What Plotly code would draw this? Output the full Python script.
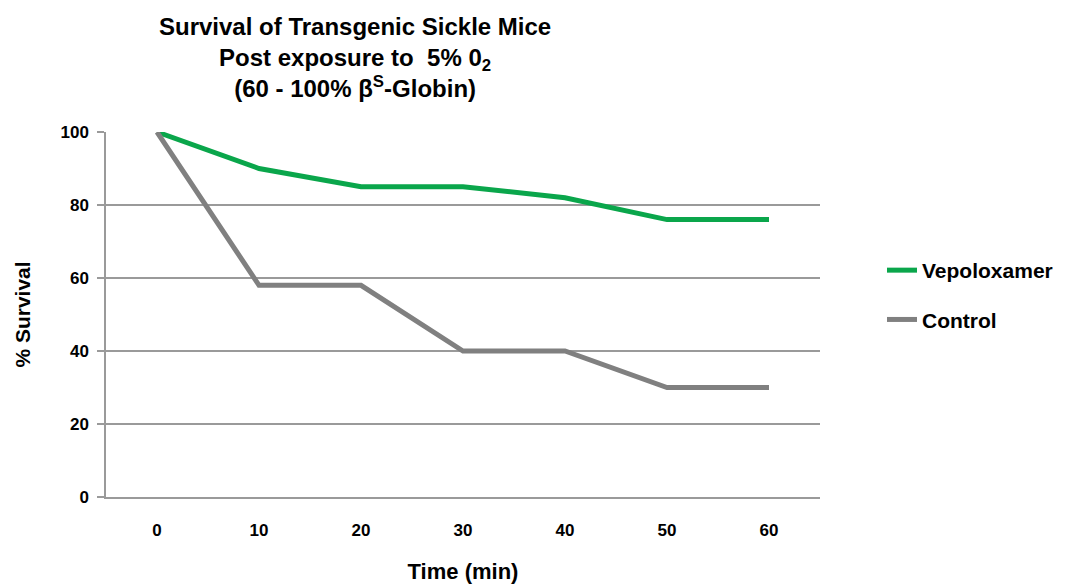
import plotly.graph_objects as go

times = ["0", "10", "20", "30", "40", "50", "60"]
vepoloxamer = [100, 90, 85, 85, 82, 76, 76]
control = [100, 58, 58, 40, 40, 30, 30]
y_ticks = [0, 20, 40, 60, 80, 100]

FONT = "Liberation Sans"
GRID = "#9a9a9a"

# The page body adds an 8px offset, so the figure is drawn 8px smaller.
W, H = 1077, 579
L, T, R, B = 98, 124, 265, 90
PW = W - L - R
PH = H - T - B

fig = go.Figure()
fig.add_trace(go.Scatter(x=times, y=vepoloxamer, mode="lines", name="Vepoloxamer",
                         line=dict(color="#0aa64b", width=5), legendgroup="a"))
fig.add_trace(go.Scatter(x=times, y=control, mode="lines", name="Control",
                         line=dict(color="#808080", width=5), legendgroup="b"))

fig.add_annotation(
    text="<b>Survival of Transgenic Sickle Mice<br>Post exposure to  5% 0<sub>2</sub><br>(60 - 100% β<sup>S</sup>-Globin)</b>",
    xref="paper", yref="paper", x=(347 - L) / PW, y=1 + 121 / PH,
    xanchor="center", yanchor="top", showarrow=False, align="center",
    font=dict(size=24, family=FONT, color="black"),
)

fig.update_layout(
    width=W, height=H,
    paper_bgcolor="white", plot_bgcolor="white",
    margin=dict(l=L, r=R, t=T, b=B),
    font=dict(family=FONT, color="black"),
    legend=dict(x=(874 - L) / PW, xanchor="left", y=1 - 163 / PH, yanchor="middle",
                font=dict(size=21, family=FONT, color="black", weight="bold"),
                tracegroupgap=19, bgcolor="rgba(0,0,0,0)"),
    xaxis=dict(
        type="category", range=[-0.5, 6.5], automargin=False,
        showgrid=False, showline=True, linecolor=GRID, linewidth=1.5,
        ticks="", ticklabelstandoff=17,
        tickfont=dict(size=17, family=FONT, color="black", weight="bold"),
        title=dict(text="<b>Time (min)</b>", font=dict(size=22, family=FONT, color="black"), standoff=24),
        zeroline=False,
    ),
    yaxis=dict(
        range=[0, 100], tickvals=y_ticks, automargin=False,
        showgrid=True, gridcolor=GRID, gridwidth=1.5,
        showline=True, linecolor=GRID, linewidth=1.5,
        ticks="outside", ticklen=7, tickcolor=GRID, tickwidth=1.5,
        ticklabelstandoff=5,
        tickfont=dict(size=17, family=FONT, color="black", weight="bold"),
        title=dict(text="<b>% Survival</b>", font=dict(size=21, family=FONT, color="black"), standoff=24),
        zeroline=False,
    ),
)

fig.write_html("out.html")
